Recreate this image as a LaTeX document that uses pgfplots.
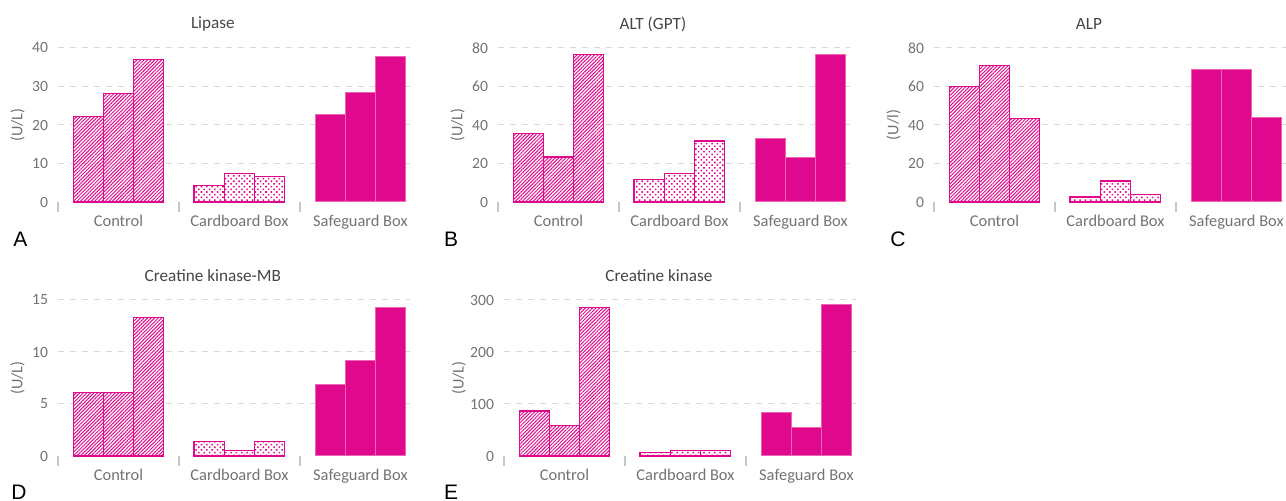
\documentclass[border=0pt]{standalone}
\usepackage{fontspec}
\setmainfont{Carlito}
\newfontfamily\letterfont{Liberation Sans}
\usepackage{pgfplots}
\pgfplotsset{compat=1.18}
\usetikzlibrary{patterns.meta}
\definecolor{mag}{RGB}{224,8,140}
\definecolor{magline}{RGB}{238,100,175}
\definecolor{txt}{RGB}{115,115,115}
\definecolor{ttl}{RGB}{70,70,70}
\tikzset{
  hatchbar/.style={pattern={Lines[angle=45,distance=1.25pt,line width=0.5pt]}, pattern color=mag, draw=mag, line width=0.6pt},
  dotbar/.style={pattern={Dots[angle=45,distance=1.9pt,radius=0.55pt]}, pattern color=mag, draw=mag, line width=0.6pt},
  solidbar/.style={fill=mag, draw=magline, line width=0.5pt},
}
\pgfplotsset{
  every axis title/.style={at={(axis description cs:0.44,1.155)}, anchor=center, font=\fontsize{8.6}{10}\selectfont, text=ttl},
  panel/.style={
    scale only axis, width=176pt, height=77pt, anchor=south west,
    xmin=-0.5, xmax=2.41, ymin=0,
    axis line style={draw=none},
    xtick={0,1,2}, xticklabels={Control,Cardboard Box,Safeguard Box},
    minor xtick={-0.5,0.5,1.5},
    major tick length=0pt, minor tick length=5pt,
    tick align=outside, xtick pos=bottom, ytick pos=left,
    major tick style={draw=none},
    minor x tick style={draw=black!22, line width=0.6pt},
    ymajorgrids, grid style={draw=black!15, dash pattern=on 3pt off 3pt, line width=0.5pt},
    extra y ticks={0}, extra y tick style={grid=none},
    /pgf/number format/assume math mode=true,
    yticklabel style={font=\fontsize{7.8}{9}\selectfont, text=txt, xshift=-1.5pt},
    xticklabel style={font=\fontsize{8.2}{10}\selectfont, text=txt, yshift=-3pt},
    ylabel style={at={(axis description cs:-0.115,0.5)}, anchor=center, font=\fontsize{8.1}{10}\selectfont, text=txt},
    clip=false,
  },
  bars/.style={ybar, bar width=0.25, bar shift=0pt},
}
\begin{document}
\begin{tikzpicture}
\path[use as bounding box] (0,0) rectangle (643pt,-250.5pt);

% A Lipase
\begin{axis}[panel, at={(29pt,-101pt)}, ymax=40, ytick={10,20,30,40}, title={Lipase}, ylabel={(U/L)}]
\addplot[bars, hatchbar] coordinates {(-0.25,22.3) (0,28.2) (0.25,37.0)};
\addplot[bars, dotbar] coordinates {(0.75,4.2) (1,7.4) (1.25,6.7)};
\addplot[bars, solidbar] coordinates {(1.75,22.6) (2,28.4) (2.25,37.7)};
\end{axis}

% B ALT
\begin{axis}[panel, at={(249pt,-101pt)}, ymax=80, ytick={20,40,60,80}, title={ALT (GPT)}, ylabel={(U/L)}]
\addplot[bars, hatchbar] coordinates {(-0.25,35.5) (0,23.4) (0.25,76.7)};
\addplot[bars, dotbar] coordinates {(0.75,11.6) (1,15.0) (1.25,31.7)};
\addplot[bars, solidbar] coordinates {(1.75,33.1) (2,23.3) (2.25,76.4)};
\end{axis}

% C ALP
\begin{axis}[panel, at={(467pt,-101pt)}, ymax=80, ytick={20,40,60,80}, title={ALP}, ylabel={(U/l)}]
\addplot[bars, hatchbar] coordinates {(-0.25,59.8) (0,71.0) (0.25,43.3)};
\addplot[bars, dotbar] coordinates {(0.75,2.6) (1,10.9) (1.25,4.1)};
\addplot[bars, solidbar] coordinates {(1.75,69.0) (2,69.0) (2.25,43.8)};
\end{axis}

% D CK-MB
\begin{axis}[panel, height=78pt, at={(29pt,-228pt)}, ymax=15, ytick={5,10,15}, title={Creatine kinase-MB}, ylabel={(U/L)}]
\addplot[bars, hatchbar] coordinates {(-0.25,6.1) (0,6.1) (0.25,13.3)};
\addplot[bars, dotbar] coordinates {(0.75,1.4) (1,0.5) (1.25,1.4)};
\addplot[bars, solidbar] coordinates {(1.75,6.9) (2,9.2) (2.25,14.3)};
\end{axis}

% E CK
\begin{axis}[panel, height=78pt, at={(252pt,-228pt)}, ymax=300, ytick={100,200,300}, title={Creatine kinase}, ylabel={(U/L)}, ylabel style={at={(axis description cs:-0.128,0.5)}}]
\addplot[bars, hatchbar] coordinates {(-0.25,86.7) (0,59.1) (0.25,285.8)};
\addplot[bars, dotbar] coordinates {(0.75,6.4) (1,10.3) (1.25,10.3)};
\addplot[bars, solidbar] coordinates {(1.75,84.1) (2,55.2) (2.25,291.6)};
\end{axis}

\node[font=\letterfont\fontsize{10.5}{11}\selectfont] at (10.25pt,-119.5pt) {A};
\node[font=\letterfont\fontsize{10.5}{11}\selectfont] at (225.5pt,-119.5pt) {B};
\node[font=\letterfont\fontsize{10.5}{11}\selectfont] at (449pt,-119.5pt) {C};
\node[font=\letterfont\fontsize{10.5}{11}\selectfont] at (9.5pt,-246pt) {D};
\node[font=\letterfont\fontsize{10.5}{11}\selectfont] at (225.5pt,-246pt) {E};
\end{tikzpicture}
\end{document}
